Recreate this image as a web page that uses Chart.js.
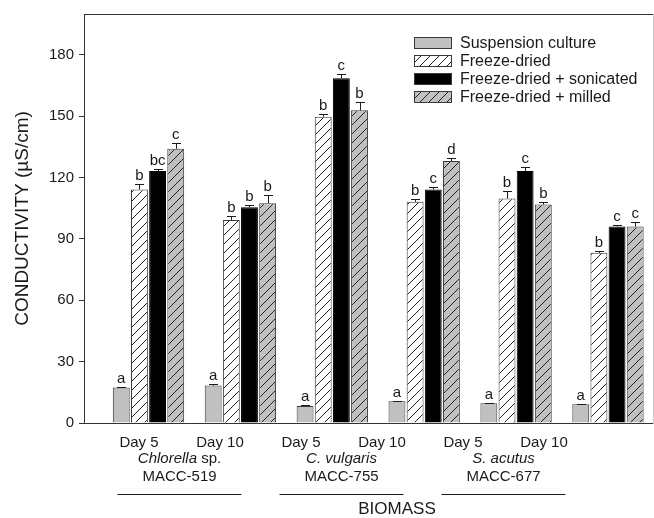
<!DOCTYPE html>
<html>
<head>
<meta charset="utf-8">
<script src="https://cdn.jsdelivr.net/npm/chart.js@4.4.1/dist/chart.umd.min.js"></script>
<style>
  html, body { margin: 0; padding: 0; background: #ffffff; }
  #wrap { width: 654px; height: 518px; }
</style>
</head>
<body>
<div id="wrap"><canvas id="chart" width="654" height="518"></canvas></div>
<script>
// Sampling days, one per bar group
const categories = ['Day 5', 'Day 10', 'Day 5', 'Day 10', 'Day 5', 'Day 10'];
// Strain names under each pair of days
const strainNames = ['Chlorella sp.', 'C. vulgaris', 'S. acutus'];
const strainCodes = ['MACC-519', 'MACC-755', 'MACC-677'];
// Y-axis ticks (µS/cm)
const yTicks = [0, 30, 60, 90, 120, 150, 180];

// Conductivity means and standard deviations (µS/cm)
const suspension    = [17.3, 18.3, 8.3, 10.6, 9.6, 9.2];
const suspensionErr = [0.3, 0.7, 0.3, 0.3, 0.3, 0.2];
const freezeDried    = [114.2, 99.3, 149.8, 108.2, 109.8, 83.2];
const freezeDriedErr = [2.8, 1.7, 1.1, 1.4, 3.6, 0.8];
const sonicated    = [123.2, 105.5, 168.6, 114.2, 123.2, 96.1];
const sonicatedErr = [1.1, 1.2, 2.3, 1.3, 1.9, 0.8];
const milled    = [134.1, 107.5, 152.9, 128.1, 106.8, 96.1];
const milledErr = [2.9, 3.9, 4.3, 1.4, 1.4, 2.3];

// Significance letters
const suspensionSig  = ['a', 'a', 'a', 'a', 'a', 'a'];
const freezeDriedSig = ['b', 'b', 'b', 'b', 'b', 'b'];
const sonicatedSig   = ['bc', 'b', 'c', 'c', 'c', 'c'];
const milledSig      = ['c', 'b', 'b', 'd', 'b', 'c'];

const FONT = "'Liberation Sans', Arial, Helvetica, sans-serif";
const INK = '#1a1a1a';

const canvas = document.getElementById('chart');
const ctx = canvas.getContext('2d');

// Diagonal hatch fill
function hatch(bg, fg) {
  const n = 9;
  const c = document.createElement('canvas');
  c.width = n; c.height = n;
  const g = c.getContext('2d');
  g.fillStyle = bg;
  g.fillRect(0, 0, n, n);
  g.strokeStyle = fg;
  g.lineWidth = 1;
  g.beginPath();
  g.moveTo(0, n); g.lineTo(n, 0);
  g.moveTo(-2, 2); g.lineTo(2, -2);
  g.moveTo(n - 2, n + 2); g.lineTo(n + 2, n - 2);
  g.stroke();
  return ctx.createPattern(c, 'repeat');
}

const toPoints = arr => arr.map((v, i) => ({ x: i + 1, y: v }));

const datasets = [
  { label: 'Suspension culture', data: toPoints(suspension), err: suspensionErr, sig: suspensionSig,
    backgroundColor: '#c0c0c0', borderColor: '#3a3a3a' },
  { label: 'Freeze-dried', data: toPoints(freezeDried), err: freezeDriedErr, sig: freezeDriedSig,
    backgroundColor: hatch('#ffffff', '#222222'), borderColor: '#3a3a3a' },
  { label: 'Freeze-dried + sonicated', data: toPoints(sonicated), err: sonicatedErr, sig: sonicatedSig,
    backgroundColor: '#000000', borderColor: '#000000' },
  { label: 'Freeze-dried + milled', data: toPoints(milled), err: milledErr, sig: milledSig,
    backgroundColor: hatch('#c0c0c0', '#222222'), borderColor: '#3a3a3a' }
].map(d => Object.assign(d, { borderWidth: 1, categoryPercentage: 0.79, barPercentage: 0.93, xAxisID: 'x' }));

// Error bars and significance letters
const errorBars = {
  id: 'errorBars',
  afterDatasetsDraw(chart) {
    const c = chart.ctx;
    const y = chart.scales.y;
    c.save();
    c.strokeStyle = INK;
    c.lineWidth = 1;
    c.fillStyle = INK;
    c.font = '15px ' + FONT;
    c.textAlign = 'center';
    c.textBaseline = 'alphabetic';
    chart.data.datasets.forEach((ds, di) => {
      const meta = chart.getDatasetMeta(di);
      meta.data.forEach((bar, i) => {
        const v = ds.data[i].y;
        const top = Math.round(y.getPixelForValue(v + ds.err[i])) + 0.5;
        const base = y.getPixelForValue(v);
        const x = Math.round(bar.x) + 0.5;
        c.beginPath();
        c.moveTo(x, base);
        c.lineTo(x, top);
        c.moveTo(x - 4.5, top);
        c.lineTo(x + 4.5, top);
        c.stroke();
        c.fillText(ds.sig[i], bar.x, top - 5);
      });
    });
    c.restore();
  }
};

// Legend inside the plot area, top right
const innerLegend = {
  id: 'innerLegend',
  afterDraw(chart) {
    const c = chart.ctx;
    c.save();
    c.font = '16px ' + FONT;
    c.textBaseline = 'middle';
    c.textAlign = 'left';
    chart.data.datasets.forEach((ds, i) => {
      const bx = 414, by = 37 + i * 18;
      c.fillStyle = ds.backgroundColor;
      c.fillRect(bx, by, 38, 12);
      c.strokeStyle = '#3a3a3a';
      c.lineWidth = 1;
      c.strokeRect(bx + 0.5, by + 0.5, 37, 11);
      c.fillStyle = INK;
      c.fillText(ds.label, 460, by + 6.5);
    });
    c.restore();
  }
};

// Strain names, codes, underlines and the axis title below the day labels
const strainLabels = {
  id: 'strainLabels',
  afterDraw(chart) {
    const c = chart.ctx;
    const s = chart.scales.xl;
    c.save();
    c.fillStyle = INK;
    c.strokeStyle = INK;
    c.lineWidth = 1;
    c.textBaseline = 'middle';
    strainNames.forEach((name, k) => {
      const cx = s.getPixelForValue(2 * k + 1.5);
      const italicPart = name.endsWith(' sp.') ? name.slice(0, -4) : name;
      const plainPart = name.endsWith(' sp.') ? ' sp.' : '';
      c.font = 'italic 15px ' + FONT;
      const w1 = c.measureText(italicPart).width;
      c.font = '15px ' + FONT;
      const w2 = c.measureText(plainPart).width;
      const x0 = cx - (w1 + w2) / 2;
      c.textAlign = 'left';
      c.font = 'italic 15px ' + FONT;
      c.fillText(italicPart, x0, 459);
      c.font = '15px ' + FONT;
      c.fillText(plainPart, x0 + w1, 459);
      c.textAlign = 'center';
      c.fillText(strainCodes[k], cx, 477);
      const half = (s.getPixelForValue(2) - s.getPixelForValue(1)) * 0.765;
      c.beginPath();
      c.moveTo(cx - half, 494.5);
      c.lineTo(cx + half, 494.5);
      c.stroke();
    });
    c.font = '17px ' + FONT;
    c.textAlign = 'center';
    c.fillText('BIOMASS', 397, 509);
    c.restore();
  }
};

new Chart(ctx, {
  type: 'bar',
  data: { datasets },
  plugins: [errorBars, innerLegend, strainLabels],
  options: {
    responsive: false,
    animation: false,
    layout: { padding: { top: 14, right: 1, left: 0, bottom: 0 } },
    plugins: { legend: { display: false }, tooltip: { enabled: false } },
    scales: {
      x: {
        type: 'linear', display: false, offset: false,
        min: 0.298, max: 6.49,
        afterBuildTicks: s => { s.ticks = categories.map((_, i) => ({ value: i + 1 })); }
      },
      xl: {
        type: 'linear', position: 'bottom', offset: false,
        min: 0.321, max: 7.346,
        afterBuildTicks: s => { s.ticks = categories.map((_, i) => ({ value: i + 1 })); },
        afterFit: s => { s.height = 95; },
        grid: { display: false, drawTicks: false },
        border: { display: true, color: '#333333', width: 1 },
        ticks: {
          autoSkip: false, maxRotation: 0, padding: 11,
          color: INK, font: { family: FONT, size: 15 },
          callback: (v) => categories[Math.round(v) - 1] || ''
        }
      },
      xt: {
        type: 'linear', position: 'top', min: 0, max: 1,
        afterFit: s => { s.height = 0; },
        grid: { display: false, drawTicks: false },
        border: { display: true, color: '#333333', width: 1 },
        ticks: { display: false }
      },
      y: {
        type: 'linear', position: 'left', min: 0, max: 200,
        afterBuildTicks: s => { s.ticks = yTicks.map(v => ({ value: v })); },
        afterFit: s => { s.width = 84; },
        grid: { display: true, drawOnChartArea: false, drawTicks: true, tickLength: 5, color: '#333333' },
        border: { display: true, color: '#333333', width: 1 },
        ticks: { color: INK, padding: 5, font: { family: FONT, size: 15 } },
        title: {
          display: true, text: 'CONDUCTIVITY (µS/cm)', color: INK,
          font: { family: FONT, size: 19 }, padding: { top: 11, bottom: 0 }
        }
      },
      yr: {
        type: 'linear', position: 'right', min: 0, max: 1,
        afterFit: s => { s.width = 0; },
        grid: { display: false, drawTicks: false },
        border: { display: true, color: '#cccccc', width: 1 },
        ticks: { display: false }
      }
    }
  }
});
</script>
</body>
</html>
